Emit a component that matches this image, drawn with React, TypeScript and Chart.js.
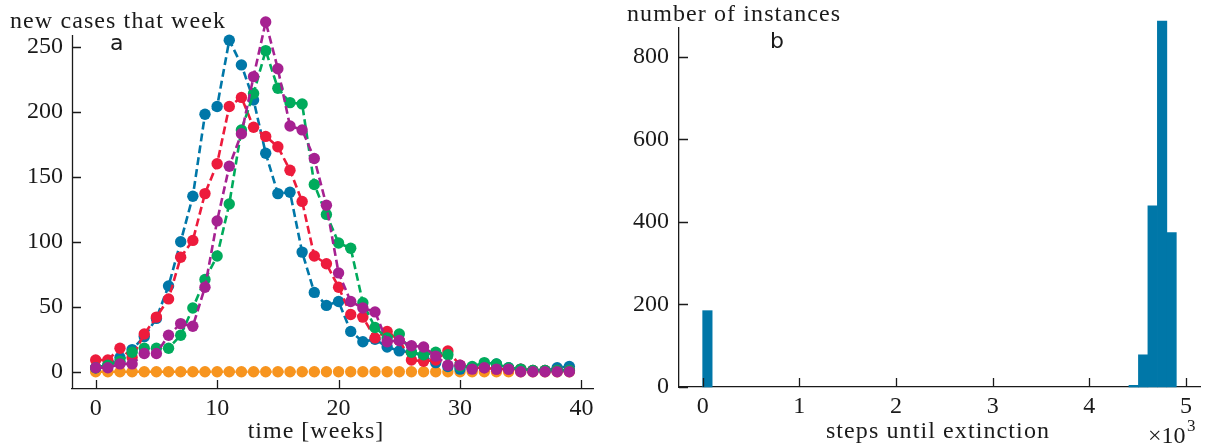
import React, { useEffect, useRef } from 'react';
import { Chart, registerables } from 'chart.js';

Chart.register(...registerables);

// ---------- data: panel a ----------
const weeks = [0, 1, 2, 3, 4, 5, 6, 7, 8, 9, 10, 11, 12, 13, 14, 15, 16, 17, 18, 19, 20, 21, 22, 23, 24, 25, 26, 27, 28, 29, 30, 31, 32, 33, 34, 35, 36, 37, 38, 39];
const casesBlue = [3, 5, 11, 17, 27, 41, 66, 100, 135, 198, 204, 255, 236, 209, 168, 137, 138, 92, 61, 51, 54, 31, 23, 25, 19, 16, 15, 12, 7, 4, 2, 3, 5, 6, 3, 2, 1, 1, 3, 4];
const casesRed = [9, 9, 18, 11, 29, 42, 56, 88, 101, 137, 160, 204, 211, 188, 181, 173, 155, 131, 89, 83, 65, 44, 42, 26, 31, 24, 9, 8, 9, 16, 5, 3, 3, 2, 2, 2, 1, 1, 1, 1];
const casesGreen = [3, 5, 8, 15, 18, 18, 18, 28, 49, 71, 89, 129, 186, 214, 247, 218, 207, 206, 144, 121, 99, 95, 53, 34, 26, 29, 15, 13, 15, 13, 4, 4, 7, 6, 3, 2, 1, 1, 1, 1];
const casesPurple = [3, 3, 6, 6, 14, 14, 28, 37, 35, 65, 116, 158, 183, 227, 269, 233, 189, 186, 164, 128, 76, 54, 49, 46, 23, 24, 20, 19, 12, 5, 5, 2, 3, 2, 2, 0, 0, 0, 0, 0];
const casesOrange = [0, 0, 0, 0, 0, 0, 0, 0, 0, 0, 0, 0, 0, 0, 0, 0, 0, 0, 0, 0, 0, 0, 0, 0, 0, 0, 0, 0, 0, 0, 0, 0, 0, 0, 0, 0, 0, 0, 0, 0];
const xTicksA = [0, 10, 20, 30, 40];
const yTicksA = [0, 50, 100, 150, 200, 250];

// ---------- data: panel b (histogram, 50 bins) ----------
const binStart = 0;
const binWidth = 98;
const binCounts = [
  185, 0, 0, 0, 0, 0, 0, 0, 0, 0,
  0, 0, 0, 0, 0, 0, 0, 0, 0, 0,
  0, 0, 0, 0, 0, 0, 0, 0, 0, 0,
  0, 0, 0, 0, 0, 0, 0, 0, 0, 0,
  0, 0, 0, 0, 0, 4, 78, 439, 887, 374,
];
const xTicksB = [0, 1000, 2000, 3000, 4000, 5000];
const yTicksB = [0, 200, 400, 600, 800];

// ---------- styles ----------
const SERIF = '"Liberation Serif", "Times New Roman", serif';
const SANS = '"DejaVu Sans", sans-serif';
const INK = '#1a1a1a';
const C_BLUE = '#0077a8';
const C_RED = '#ed1b3c';
const C_GREEN = '#00ab5c';
const C_PURPLE = '#a62191';
const C_ORANGE = '#f7941e';

type TextItem = {
  text: string;
  x: number;
  y: number;
  size: number;
  family: string;
  align: CanvasTextAlign;
  spacing?: number;
};

const freeText = {
  id: 'freeText',
  afterDraw(chart: any, _args: any, opts: any) {
    const ctx = chart.ctx as CanvasRenderingContext2D;
    const items: TextItem[] = opts.items || [];
    ctx.save();
    for (const it of items) {
      ctx.font = `${it.size}px ${it.family}`;
      (ctx as any).letterSpacing = `${it.spacing || 0}px`;
      ctx.fillStyle = INK;
      ctx.textAlign = it.align;
      ctx.textBaseline = 'alphabetic';
      ctx.fillText(it.text, it.x, it.y);
    }
    (ctx as any).letterSpacing = '0px';
    ctx.restore();
  },
};

// inward tick marks + (optionally) a left spine that stops at a given value
const inwardTicks = {
  id: 'inwardTicks',
  beforeDatasetsDraw(chart: any, _args: any, opts: any) {
    if (opts.spineTop === undefined) return;
    const { ctx, chartArea } = chart;
    const ys = chart.scales.y;
    ctx.save();
    ctx.strokeStyle = INK;
    ctx.lineWidth = opts.width ?? 1.3;
    const x = Math.round(chartArea.left) + 0.5;
    ctx.beginPath();
    ctx.moveTo(x, ys.getPixelForValue(opts.spineTop));
    ctx.lineTo(x, chartArea.bottom);
    ctx.stroke();
    ctx.restore();
  },
  afterDraw(chart: any, _args: any, opts: any) {
    const { ctx, chartArea } = chart;
    const len = opts.length ?? 9;
    ctx.save();
    ctx.strokeStyle = INK;
    ctx.lineWidth = opts.width ?? 1.3;
    ctx.beginPath();
    const xs = chart.scales.x;
    const ys = chart.scales.y;
    xs.ticks.forEach((t: any) => {
      const p = Math.round(xs.getPixelForValue(t.value)) + 0.5;
      ctx.moveTo(p, chartArea.bottom);
      ctx.lineTo(p, chartArea.bottom - len);
    });
    ys.ticks.forEach((t: any) => {
      const p = Math.round(ys.getPixelForValue(t.value)) + 0.5;
      ctx.moveTo(chartArea.left, p);
      ctx.lineTo(chartArea.left + len, p);
    });
    ctx.stroke();
    ctx.restore();
  },
};

const tickFont = { family: SERIF, size: 24 };

function lineDataset(label: string, values: number[], color: string) {
  return {
    label,
    data: weeks.map((w, i) => ({ x: w, y: values[i] })),
    borderColor: color,
    backgroundColor: color,
    borderWidth: 2.6,
    borderDash: [8, 4],
    pointRadius: 5.7,
    pointBorderWidth: 0,
    pointBackgroundColor: color,
    pointHoverRadius: 5.7,
    tension: 0,
    fill: false,
    clip: false as any,
  };
}

export default function App() {
  const leftRef = useRef<HTMLCanvasElement>(null);
  const rightRef = useRef<HTMLCanvasElement>(null);

  useEffect(() => {
    const left = new Chart(leftRef.current as HTMLCanvasElement, {
      type: 'line',
      data: {
        datasets: [
          lineDataset('run 4', casesPurple, C_PURPLE),
          lineDataset('run 3', casesGreen, C_GREEN),
          lineDataset('run 2', casesRed, C_RED),
          lineDataset('run 1', casesBlue, C_BLUE),
          lineDataset('run 5', casesOrange, C_ORANGE),
        ] as any,
      },
      options: {
        responsive: false,
        animation: false,
        events: [],
        layout: { padding: { left: 0, right: 7, top: 25, bottom: 0 } },
        scales: {
          x: {
            type: 'linear',
            min: -1.95,
            max: 40.95,
            afterFit: (s: any) => { s.height = 58; },
            afterBuildTicks: (s: any) => { s.ticks = xTicksA.map((v) => ({ value: v })); },
            grid: { display: false, drawTicks: false },
            border: { display: true, color: INK, width: 1.3 },
            ticks: { font: tickFont, color: INK, padding: 5, maxRotation: 0, autoSkip: false, callback: (v: any) => String(v) },
          },
          y: {
            type: 'linear',
            min: -13.3,
            max: 266.7,
            afterFit: (s: any) => { s.width = 72; },
            afterBuildTicks: (s: any) => { s.ticks = yTicksA.map((v) => ({ value: v })); },
            grid: { display: false, drawTicks: false },
            border: { display: false },
            ticks: { font: tickFont, color: INK, padding: 9, autoSkip: false, callback: (v: any) => String(v) },
          },
        },
        plugins: {
          legend: { display: false },
          tooltip: { enabled: false },
          freeText: {
            items: [
              { text: 'new cases that week', x: 10, y: 28, size: 24, family: SERIF, align: 'left', spacing: 1.1 },
              { text: 'a', x: 110, y: 50, size: 22, family: SANS, align: 'left' },
              { text: 'time [weeks]', x: 316, y: 438, size: 24, family: SERIF, align: 'center', spacing: 1.0 },
            ],
          },
          inwardTicks: { length: 9, width: 1.3, spineTop: 259 },
        } as any,
      },
      plugins: [freeText, inwardTicks],
    });

    const binCenters = binCounts.map((_, i) => binStart + (i + 0.5) * binWidth);
    const right = new Chart(rightRef.current as HTMLCanvasElement, {
      type: 'bar',
      data: {
        datasets: [
          {
            label: 'instances',
            data: binCenters.map((c, i) => ({ x: c, y: binCounts[i] === 0 ? null : binCounts[i] })),
            backgroundColor: C_BLUE,
            borderWidth: 0,
            barPercentage: 1,
            categoryPercentage: 1,
            clip: false as any,
          },
        ] as any,
      },
      options: {
        responsive: false,
        animation: false,
        events: [],
        layout: { padding: { left: 0, right: 5, top: 28, bottom: 0 } },
        scales: {
          x: {
            type: 'linear',
            offset: false,
            min: -245,
            max: 5145,
            afterFit: (s: any) => { s.height = 60; },
            afterBuildTicks: (s: any) => { s.ticks = xTicksB.map((v) => ({ value: v })); },
            grid: { display: false, drawTicks: false, offset: false },
            border: { display: true, color: INK, width: 1.3 },
            ticks: { font: tickFont, color: INK, padding: 5, maxRotation: 0, autoSkip: false, callback: (v: any) => String(Number(v) / 1000) },
          },
          y: {
            type: 'linear',
            min: 0,
            max: 870,
            afterFit: (s: any) => { s.width = 79; },
            afterBuildTicks: (s: any) => { s.ticks = yTicksB.map((v) => ({ value: v })); },
            grid: { display: false, drawTicks: false },
            border: { display: true, color: INK, width: 1.3 },
            ticks: { font: tickFont, color: INK, padding: 10, autoSkip: false, callback: (v: any) => String(v) },
          },
        } as any,
        plugins: {
          legend: { display: false },
          tooltip: { enabled: false },
          freeText: {
            items: [
              { text: 'number of instances', x: 27, y: 21, size: 24, family: SERIF, align: 'left', spacing: 1.1 },
              { text: 'b', x: 170, y: 48, size: 22, family: SANS, align: 'left' },
              { text: 'steps until extinction', x: 338, y: 438, size: 24, family: SERIF, align: 'center', spacing: 1.1 },
              { text: '\u00d710', x: 548, y: 443, size: 24, family: SERIF, align: 'left' },
              { text: '3', x: 587, y: 431, size: 17, family: SERIF, align: 'left' },
            ],
          },
          inwardTicks: { length: 9, width: 1.3 },
        } as any,
      },
      plugins: [freeText, inwardTicks],
    });

    return () => {
      left.destroy();
      right.destroy();
    };
  }, []);

  return (
    <div style={{ position: 'fixed', left: 0, top: 0, width: 1205, height: 447, background: '#fff', overflow: 'hidden' }}>
      <canvas ref={leftRef} width={600} height={447} style={{ position: 'absolute', left: 0, top: 0, width: 600, height: 447 }} />
      <canvas ref={rightRef} width={605} height={447} style={{ position: 'absolute', left: 600, top: 0, width: 605, height: 447 }} />
    </div>
  );
}
